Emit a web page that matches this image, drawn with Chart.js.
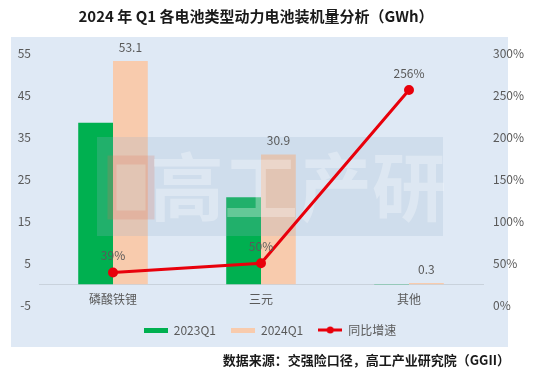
<!DOCTYPE html>
<html>
<head>
<meta charset="utf-8">
<script src="https://cdn.jsdelivr.net/npm/chart.js@4.4.1/dist/chart.umd.min.js"></script>
<style>
html,body{margin:0;padding:0;background:#ffffff;}
#wrap{position:relative;width:540px;height:372px;}
</style>
</head>
<body>
<div id="wrap"><canvas id="c" width="540" height="372"></canvas></div>
<script>
const categories = ['磷酸铁锂', '三元', '其他'];
const q1_2023 = [38.4, 20.7, 0.08];
const q1_2024 = [53.1, 30.9, 0.3];
const growth = [39, 50, 256];
const leftTicks = { min: -5, max: 55, step: 10 };
const rightTicks = { min: 0, max: 300, step: 50 };
const titleText = '2024 年 Q1 各电池类型动力电池装机量分析（GWh）';
const sourceText = '数据来源：交强险口径，高工产业研究院（GGII）';
const seriesNames = ['2023Q1', '2024Q1', '同比增速'];

const GREEN = '#00b050', PEACH = '#f8cbad', RED = '#e8000b';
const FONT = "'Noto Sans CJK SC', 'Noto Sans', sans-serif";
const TXT = '#595959';

function makeImg(w, h, draw) {
  const c = document.createElement('canvas');
  c.width = w; c.height = h;
  draw(c.getContext('2d'), w, h);
  return c;
}
const legendImgs = [
  makeImg(24, 5, (g, w, h) => { g.fillStyle = GREEN; g.fillRect(0, 0, w, h); }),
  makeImg(24, 5, (g, w, h) => { g.fillStyle = PEACH; g.fillRect(0, 0, w, h); }),
  makeImg(24, 8, (g, w, h) => {
    g.strokeStyle = RED; g.lineWidth = 3;
    g.beginPath(); g.moveTo(0, 4); g.lineTo(24, 4); g.stroke();
    g.fillStyle = RED; g.beginPath(); g.arc(12, 4, 3.5, 0, Math.PI * 2); g.fill();
  })
];

const decor = {
  id: 'decor',
  beforeDraw(chart) {
    const ctx = chart.ctx;
    ctx.save();
    ctx.fillStyle = '#dfe9f5';
    ctx.fillRect(11, 37, 497, 310);
    ctx.fillStyle = '#1a1a1a';
    ctx.font = 'bold 15px ' + FONT;
    ctx.textAlign = 'center';
    ctx.textBaseline = 'middle';
    ctx.fillText(titleText, 256, 16);
    ctx.font = 'bold 13px ' + FONT;
    ctx.textAlign = 'right';
    ctx.fillText(sourceText, 510, 360);
    ctx.restore();
  },
  beforeDatasetDraw(chart, args) {
    if (args.index !== 2) return;
    const ctx = chart.ctx;
    ctx.save();
    ctx.fillStyle = 'rgba(150,178,206,0.22)';
    ctx.fillRect(97, 137, 346, 99);
    ctx.strokeStyle = 'rgba(230,110,80,0.2)';
    ctx.lineWidth = 9;
    ctx.strokeRect(112, 160, 38, 55);
    ctx.fillStyle = 'rgba(255,255,255,0.3)';
    ctx.font = 'bold 74px ' + FONT;
    ctx.textAlign = 'left';
    ctx.textBaseline = 'middle';
    ctx.fillText('高工产研', 150, 187);
    ctx.restore();
  },
  afterDatasetsDraw(chart) {
    const ctx = chart.ctx;
    ctx.save();
    ctx.fillStyle = TXT;
    ctx.font = '12px ' + FONT;
    ctx.textAlign = 'center';
    ctx.textBaseline = 'middle';
    const m1 = chart.getDatasetMeta(1);
    m1.data.forEach((el, i) => {
      ctx.fillText(q1_2024[i].toFixed(1), el.x, el.y - 14);
    });
    const m2 = chart.getDatasetMeta(2);
    m2.data.forEach((el, i) => {
      ctx.fillText(growth[i] + '%', el.x, el.y - 17);
    });
    ctx.restore();
  }
};

new Chart(document.getElementById('c'), {
  type: 'bar',
  data: {
    labels: categories,
    datasets: [
      { label: seriesNames[0], data: q1_2023, backgroundColor: GREEN, yAxisID: 'y', order: 1,
        barPercentage: 1, categoryPercentage: 0.47 },
      { label: seriesNames[1], data: q1_2024, backgroundColor: PEACH, yAxisID: 'y', order: 1,
        barPercentage: 1, categoryPercentage: 0.47 },
      { type: 'line', label: seriesNames[2], data: growth, yAxisID: 'y1', order: -1,
        borderColor: RED, backgroundColor: RED, borderWidth: 3,
        pointRadius: 3.5, pointBackgroundColor: RED, pointBorderColor: RED, tension: 0 }
    ]
  },
  options: {
    responsive: false,
    animation: false,
    devicePixelRatio: 1,
    layout: { padding: { top: 53, bottom: 26, left: 0, right: 0 } },
    plugins: {
      title: { display: false },
      tooltip: { enabled: false },
      legend: {
        position: 'bottom',
        title: { display: true, text: ' ', font: { size: 3 }, padding: 0 },
        labels: {
          usePointStyle: true,
          pointStyleWidth: 24,
          padding: 15,
          color: TXT,
          font: { size: 12, family: FONT },
          generateLabels(chart) {
            return chart.data.datasets.map((ds, i) => ({
              text: ds.label,
              pointStyle: legendImgs[i],
              fillStyle: ds.backgroundColor,
              strokeStyle: ds.backgroundColor,
              lineWidth: 0,
              hidden: false,
              datasetIndex: i,
              fontColor: TXT
            }));
          }
        }
      }
    },
    scales: {
      x: {
        position: { y: 0 },
        offset: true,
        grid: { display: false, drawTicks: false },
        border: { display: true, color: '#c9d2dc', width: 1 },
        ticks: { color: TXT, font: { size: 12, family: FONT }, padding: 8 }
      },
      y: {
        position: 'left',
        min: leftTicks.min, max: leftTicks.max,
        grid: { display: false, drawTicks: false },
        border: { display: false },
        ticks: { stepSize: leftTicks.step, color: TXT, font: { size: 12, family: FONT }, padding: 8 },
        afterFit(s) { s.width = 39; }
      },
      y1: {
        position: 'right',
        min: rightTicks.min, max: rightTicks.max,
        grid: { display: false, drawTicks: false },
        border: { display: false },
        ticks: { stepSize: rightTicks.step, color: TXT, font: { size: 12, family: FONT }, padding: 10,
          callback: v => v + '%' },
        afterFit(s) { s.width = 57; }
      }
    }
  },
  plugins: [decor]
});
</script>
</body>
</html>
